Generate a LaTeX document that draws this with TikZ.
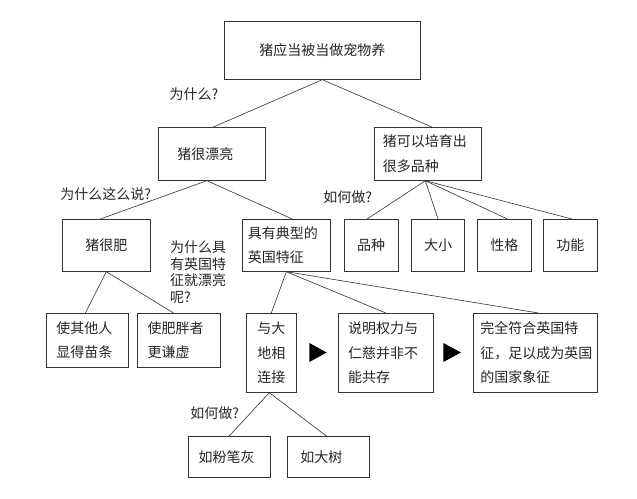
\documentclass[tikz,border=0pt]{standalone}
\usepackage{fontspec}
\setmainfont{Noto Sans CJK SC}
\tikzset{
  box/.style={draw=black!80, line width=0.7pt, anchor=north west, inner ysep=0pt,
    font=\fontsize{14}{24.5}\selectfont, text=black!85},
  lbl/.style={inner sep=0pt, font=\fontsize{14}{16.5}\selectfont, text=black!85},
  link/.style={draw=black!80, line width=0.6pt},
  tri/.style={fill=black}
}
\newcommand{\bx}[8]{% name, x, y, W, H, pad, align, text
  \pgfmathsetmacro{\tw}{#4-2*#6}
  \node[box, minimum width=#4pt, minimum height=#5pt, text width=\tw pt, inner xsep=#6pt, align=#7] (#1) at (#2,#3) {#8};
}
\begin{document}
\begin{tikzpicture}[x=1pt,y=-1pt]
\useasboundingbox (0,0) rectangle (637,498);
\fill[white] (0,0) rectangle (637,498);
\bx{top}{224}{21}{196}{58}{4}{center}{猪应当被当做宠物养}
\bx{piao}{158}{127}{107}{53}{19}{left}{猪很漂亮}
\bx{keyi}{374}{127}{107}{53}{8.5}{left}{猪可以培育出\\很多品种}
\bx{fei}{62}{219}{88}{52}{4}{center}{猪很肥}
\bx{dianxing}{242}{219}{88}{52}{5.5}{left}{具有典型的\\英国特征}
\bx{pinzhong}{344}{219}{53.5}{52}{2}{center}{品种}
\bx{daxiao}{411}{219}{53.3}{52}{2}{center}{大小}
\bx{xingge}{477.3}{219}{53.4}{52}{2}{center}{性格}
\bx{gongneng}{543.3}{219}{53.4}{52}{2}{center}{功能}
\bx{shiqi}{46}{313}{82}{54}{10}{left}{使其他人\\显得苗条}
\bx{shifei}{137.3}{313}{82.7}{54}{10}{left}{使肥胖者\\更谦虚}
\bx{yudadi}{246}{313}{50}{79}{4}{center}{与大\\地相\\连接}
\bx{shuoming}{338.3}{313}{94.4}{79}{9.4}{left}{说明权力与\\仁慈并非不\\能共存}
\bx{wanquan}{473.3}{313}{123.4}{79}{6.7}{left}{完全符合英国特\\征，足以成为英国\\的国家象征}
\bx{fenbi}{187.7}{436}{82.3}{41.3}{10.5}{left}{如粉笔灰}
\bx{dashu}{287}{436}{82}{41}{13}{left}{如大树}

\node[lbl] (why1) at (194,94) {为什么?};
\node[lbl] (why2) at (105.7,194) {为什么这么说?};
\node[lbl] (how1) at (347.7,197) {如何做?};
\node[lbl, anchor=north west, align=left] (why3) at (170,241) {为什么具\\有英国特\\征就漂亮\\呢?};
\node[lbl] (how2) at (214.7,413) {如何做?};

\draw[link] (top.south) -- ([xshift=1.5pt]piao.north);
\draw[link] (top.south) -- ([xshift=4pt]keyi.north);
\draw[link] ([xshift=-5pt]piao.south) -- ([xshift=-6pt]fei.north);
\draw[link] ([xshift=-5pt]piao.south) -- ([xshift=6pt]dianxing.north);
\draw[link] ([xshift=-2.5pt]keyi.south) -- ([xshift=-4pt]pinzhong.north);
\draw[link] ([xshift=-2.5pt]keyi.south) -- (daxiao.north);
\draw[link] ([xshift=-2.5pt]keyi.south) -- ([xshift=3pt]xingge.north);
\draw[link] ([xshift=-2.5pt]keyi.south) -- ([xshift=1.5pt]gongneng.north);
\draw[link] (fei.south) -- ([xshift=-2pt]shiqi.north);
\draw[link] (fei.south) -- ([xshift=-5.5pt]shifei.north);
\draw[link] (dianxing.south) -- (yudadi.north);
\draw[link] (dianxing.south) -- (shuoming.north);
\draw[link] (dianxing.south) -- ([xshift=3pt]wanquan.north);
\draw[link] ([xshift=-2pt]yudadi.south) -- (fenbi.north);
\draw[link] ([xshift=-2pt]yudadi.south) -- ([xshift=-2pt]dashu.north);

\fill[tri] (309.3,343) -- (326.7,352.5) -- (309.3,362) -- cycle;
\fill[tri] (443.3,343) -- (461,352.5) -- (443.3,362) -- cycle;
\end{tikzpicture}
\end{document}
